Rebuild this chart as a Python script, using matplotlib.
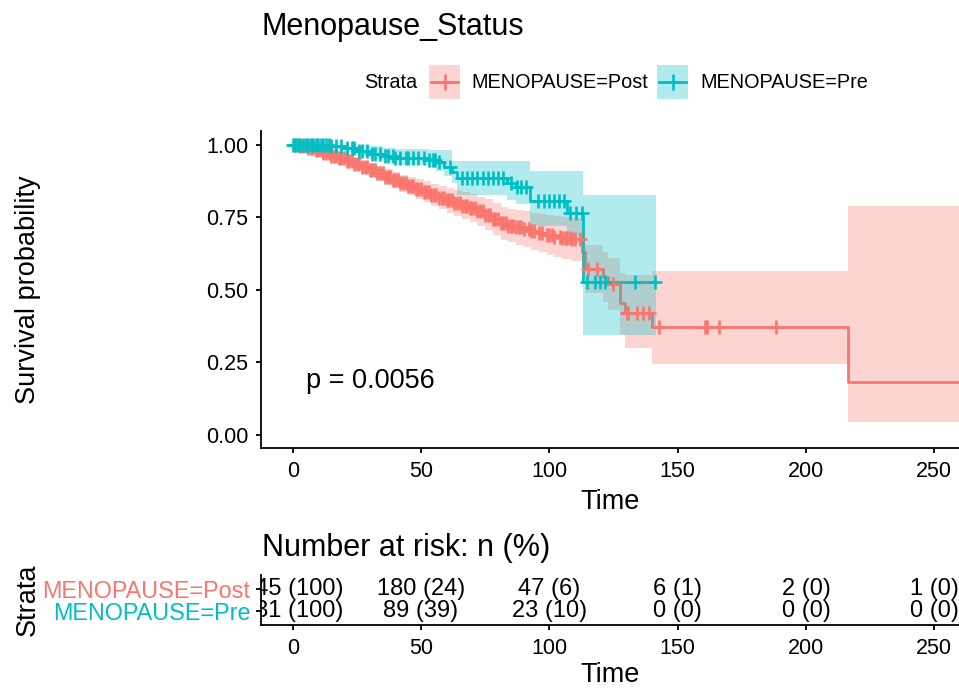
import numpy as np
import matplotlib
matplotlib.use("Agg")
import matplotlib.pyplot as plt
from matplotlib.patches import Rectangle
from matplotlib.lines import Line2D

plt.rcParams['font.family'] = ['Liberation Sans', 'DejaVu Sans']

# ---------------- data ----------------
strata = ["MENOPAUSE=Post", "MENOPAUSE=Pre"]
colors = ["#F8766D", "#00BFC4"]

post_time = [0, 3, 6, 9, 12, 15, 18, 21, 24, 27, 30, 33, 36, 39, 42, 45, 48, 51, 54, 57, 60,
             63, 66, 69, 72, 75, 78, 81, 84, 87, 90, 93, 96, 99, 102, 105, 109, 112.6, 113.9,
             121, 123, 127.5, 129.5, 140, 216.4]
post_surv = [1.0, 0.995, 0.99, 0.982, 0.972, 0.963, 0.955, 0.945, 0.934, 0.923, 0.913, 0.902,
             0.89, 0.879, 0.868, 0.858, 0.848, 0.838, 0.828, 0.818, 0.809, 0.8, 0.791, 0.782,
             0.772, 0.76, 0.745, 0.73, 0.722, 0.716, 0.709, 0.702, 0.696, 0.69, 0.684, 0.679,
             0.674, 0.632, 0.572, 0.545, 0.52, 0.454, 0.42, 0.373, 0.183]
post_low = [1.0, 0.99, 0.98, 0.97, 0.958, 0.947, 0.937, 0.925, 0.912, 0.9, 0.888, 0.876, 0.862,
            0.85, 0.838, 0.826, 0.814, 0.802, 0.79, 0.778, 0.766, 0.755, 0.745, 0.734, 0.722,
            0.708, 0.69, 0.673, 0.664, 0.656, 0.647, 0.638, 0.63, 0.622, 0.614, 0.607, 0.6,
            0.553, 0.49, 0.46, 0.43, 0.345, 0.30, 0.245, 0.045]
post_up = [1.0, 1.0, 1.0, 0.994, 0.986, 0.979, 0.973, 0.965, 0.956, 0.946, 0.938, 0.928, 0.918,
           0.908, 0.898, 0.89, 0.882, 0.874, 0.866, 0.858, 0.852, 0.845, 0.837, 0.83, 0.822,
           0.812, 0.8, 0.787, 0.78, 0.776, 0.771, 0.766, 0.762, 0.758, 0.754, 0.751, 0.748,
           0.711, 0.654, 0.63, 0.61, 0.56, 0.55, 0.567, 0.79]
post_end = 265
post_censor = [1, 2, 3, 4, 5, 6, 7, 8, 9, 10, 11, 12, 13, 14, 15, 16, 17, 18, 19, 20, 21, 22,
               23, 24, 25, 26, 27, 28, 29, 30, 31, 32, 33, 34, 35, 36, 37, 38, 39, 40, 41, 42,
               43, 44, 45, 46, 47, 48, 49, 50, 51, 52, 53, 54, 55, 56, 57, 58, 59, 60, 61, 62,
               63, 64, 65, 66, 67, 68, 69, 70, 71, 72, 73, 74, 75, 76, 77, 78, 79, 80, 81, 82,
               83, 84, 85, 86, 87, 88, 89, 90, 92, 93, 94, 96, 97, 99, 100, 101, 102, 104, 105,
               106, 107, 108, 109, 110, 112, 115.2, 118.5, 124.9, 130.1, 130.8, 134, 136.6, 139,
               142.9, 160.8, 161.6, 166, 188.4]

pre_time = [0, 15, 20, 25, 30, 35, 40, 53, 56, 59, 62, 64, 83.4, 87, 92.5, 106.8, 113.3]
pre_surv = [1.0, 0.995, 0.99, 0.98, 0.97, 0.962, 0.955, 0.948, 0.94, 0.925, 0.905, 0.885,
            0.868, 0.856, 0.805, 0.764, 0.529]
pre_low = [1.0, 0.985, 0.977, 0.965, 0.952, 0.94, 0.93, 0.92, 0.91, 0.893, 0.87, 0.828,
           0.81, 0.795, 0.72, 0.66, 0.345]
pre_up = [1.0, 1.0, 1.0, 1.0, 0.995, 0.99, 0.985, 0.983, 0.983, 0.983, 0.945, 0.945, 0.945,
          0.945, 0.91, 0.91, 0.828]
pre_end = 141.5
pre_censor = [0, 1, 2, 3, 4, 5, 6, 7, 8, 9, 10, 11, 12, 13, 14, 15, 17, 19, 21, 23, 24, 26, 27,
              29, 31, 32, 34, 36, 37, 39, 40, 42, 44, 45, 47, 49, 51, 53, 54.5, 55.5, 57, 61.4,
              66, 68, 70, 72, 74, 76, 78, 80, 82, 85, 87.5, 89, 91, 95.4, 98, 99.9, 101.9,
              103.9, 105.8, 108, 110.5, 112.6, 114.6, 117.8, 119.8, 121.7, 133.4, 141.2]

risk_times = [0, 50, 100, 150, 200, 250]
risk_post_n = [745, 180, 47, 6, 2, 1]
risk_post_pct = [100, 24, 6, 1, 0, 0]
risk_pre_n = [231, 89, 23, 0, 0, 0]
risk_pre_pct = [100, 39, 10, 0, 0, 0]

pval_text = "p = 0.0056"

# ---------------- figure ----------------
W, H = 959, 688
fig = plt.figure(figsize=(W / 100, H / 100), dpi=100)

def fx(px):
    return px / W

def fy(py):
    return 1 - py / H

XL = (-12.35, 259.6)
TICK_FS = 15.5
AX_LW = 1.3

def style_axes(ax):
    for s in ['top', 'right']:
        ax.spines[s].set_visible(False)
    for s in ['left', 'bottom']:
        ax.spines[s].set_linewidth(AX_LW)
    ax.tick_params(direction='out', length=3.6, width=AX_LW, labelsize=TICK_FS,
                   colors='black', pad=5.5)

# main axes
ax = fig.add_axes([fx(261), fy(448), fx(959) - fx(261), fy(131) - fy(448)])
style_axes(ax)
ax.set_xlim(*XL)
ax.set_ylim(-0.045, 1.048)
ax.set_xticks([0, 50, 100, 150, 200, 250])
ax.set_yticks([0, 0.25, 0.5, 0.75, 1.0])
ax.set_yticklabels(["0.00", "0.25", "0.50", "0.75", "1.00"])
ax.set_facecolor('white')

groups = [
    (post_time, post_surv, post_low, post_up, post_end, post_censor, colors[0]),
    (pre_time, pre_surv, pre_low, pre_up, pre_end, pre_censor, colors[1]),
]
for t, s, lo, up, end, cens, col in groups:
    tt = np.array(list(t) + [end])
    ss = np.array(list(s) + [s[-1]])
    ax.step(tt, ss, where='post', color=col, lw=2.0, zorder=2)
for t, s, lo, up, end, cens, col in groups:
    tt = np.array(list(t) + [end])
    ll = np.array(list(lo) + [lo[-1]])
    uu = np.array(list(up) + [up[-1]])
    ax.fill_between(tt, ll, uu, step='post', color=col, alpha=0.3, lw=0, zorder=3)
for t, s, lo, up, end, cens, col in groups:
    idx = np.searchsorted(np.array(t), np.array(cens), side='right') - 1
    ax.plot(cens, np.array(s)[idx], ls='none', marker='+', ms=10, mew=1.9, color=col,
            zorder=4)

ax.text(5.2, 0.186, pval_text, fontsize=19.5, ha='left', va='center')
ax.set_xlabel("Time", fontsize=19.5, labelpad=5)

fig.text(fx(28), fy(290), "Survival probability", rotation=90, fontsize=19.5,
         ha='center', va='center')
fig.text(fx(262), fy(27), "Menopause_Status", fontsize=22, ha='left', va='center')

# legend (manual, ggplot style)
fig.text(fx(364), fy(82), "Strata", fontsize=14.3, ha='left', va='center')
key_x = [429, 657]
lab_x = [471, 700]
for kx, lx, lab, col in zip(key_x, lab_x, strata, colors):
    fig.patches.append(Rectangle((fx(kx), fy(99)), fx(31), 34 / H, transform=fig.transFigure,
                                 facecolor=col, alpha=0.3, lw=0))
    fig.lines.append(Line2D([fx(kx + 2), fx(kx + 29)], [fy(82), fy(82)],
                            transform=fig.transFigure, color=col, lw=2.0))
    fig.lines.append(Line2D([fx(kx + 15.5)], [fy(82)], transform=fig.transFigure,
                            color=col, marker='+', ms=11, mew=1.9, ls='none'))
    fig.text(fx(lx), fy(82), lab, fontsize=14.3, ha='left', va='center')

# risk table
rt = fig.add_axes([fx(261), fy(625), fx(959) - fx(261), fy(575) - fy(625)])
style_axes(rt)
rt.set_xlim(*XL)
rt.set_ylim(2.6, 0.4)
rt.set_xticks(risk_times)
rt.set_yticks([1, 2])
rt.set_yticklabels(strata, fontsize=16.8)
rt.tick_params(axis='y', pad=4)
for lab, col in zip(rt.get_yticklabels(), colors):
    lab.set_color(col)
rows = [(risk_post_n, risk_post_pct), (risk_pre_n, risk_pre_pct)]
for r, (ns, ps) in enumerate(rows, start=1):
    for tx, n, p in zip(risk_times, ns, ps):
        rt.text(tx, r, f"{n} ({p})", fontsize=17, ha='center', va='center', clip_on=True)
rt.set_xlabel("Time", fontsize=19.5, labelpad=2.5)
fig.text(fx(28), fy(600), "Strata", rotation=90, fontsize=19.5, ha='center', va='center')
fig.text(fx(262), fy(548), "Number at risk: n (%)", fontsize=22, ha='left', va='center')

fig.savefig("out.png", dpi=100)
